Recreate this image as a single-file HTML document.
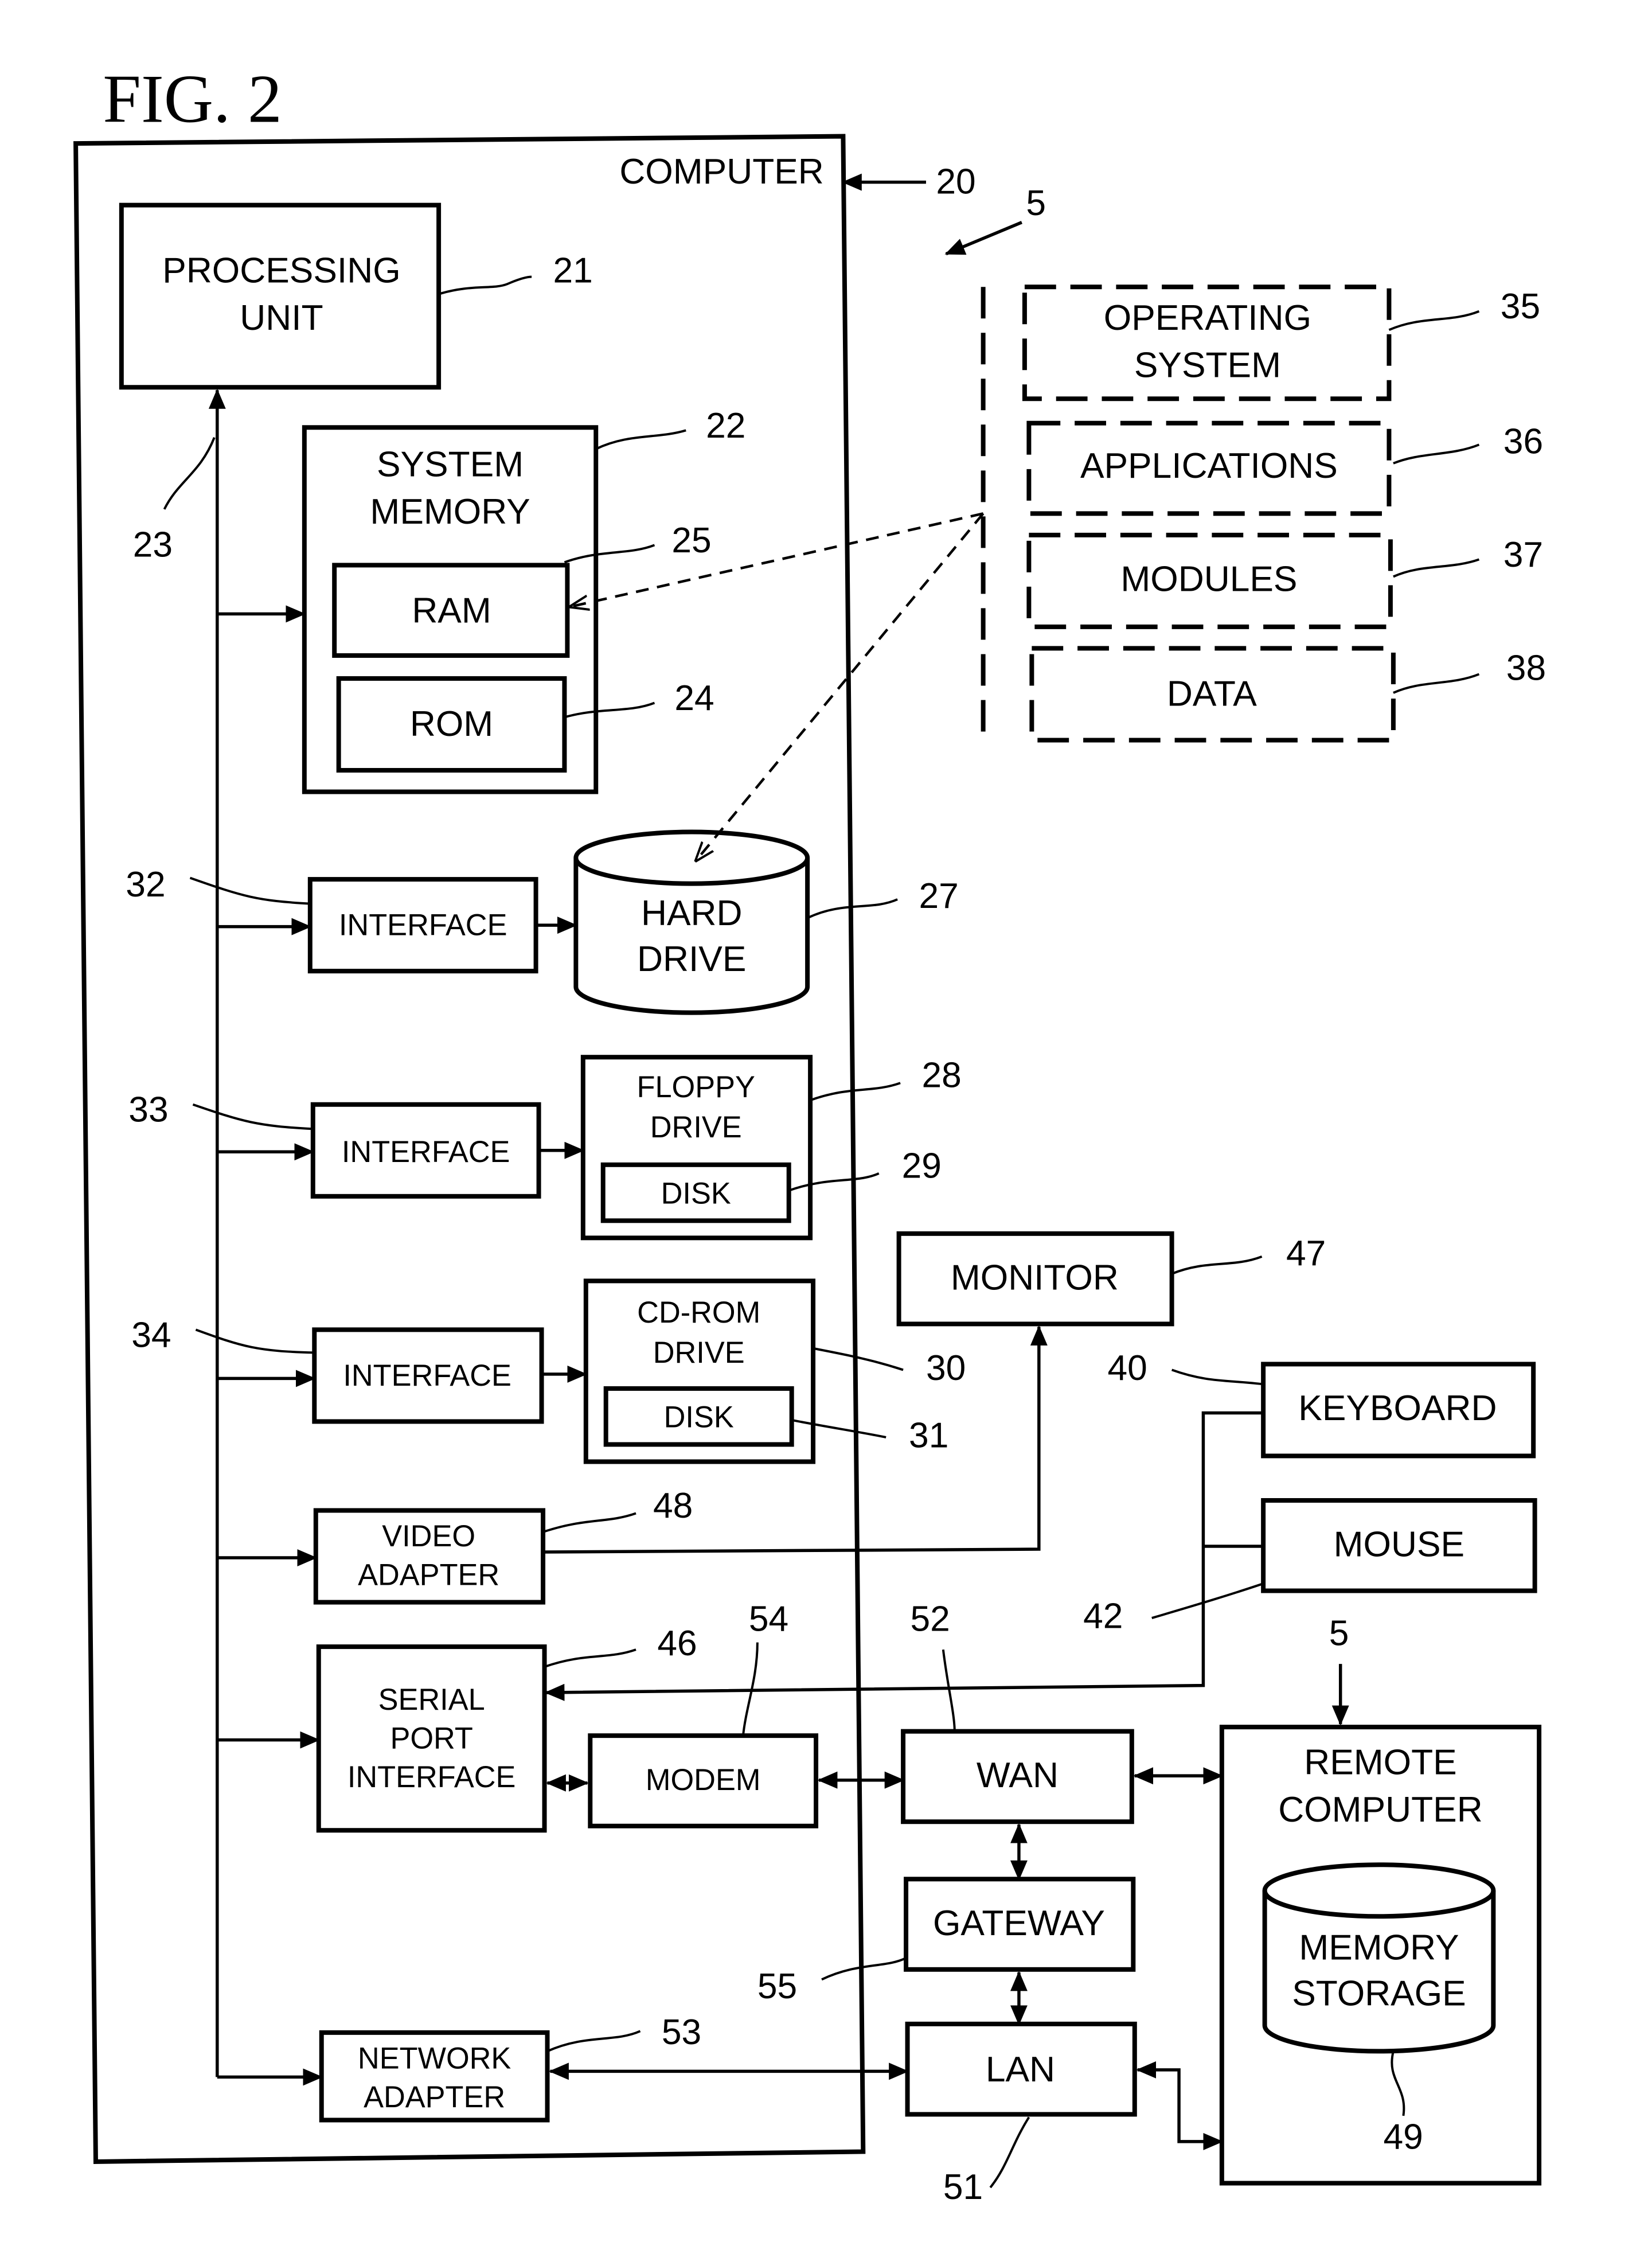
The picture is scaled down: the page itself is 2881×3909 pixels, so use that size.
<!DOCTYPE html>
<html><head><meta charset="utf-8"><style>
html,body{margin:0;padding:0;background:#fff}
svg{display:block}
text{font-family:"Liberation Sans",sans-serif;fill:#000}
</style></head><body>
<svg width="2881" height="3909" viewBox="0 0 1156 1563" preserveAspectRatio="none" xmlns="http://www.w3.org/2000/svg">
<defs>
<marker id="a" markerUnits="userSpaceOnUse" markerWidth="14" markerHeight="12" refX="13" refY="6" orient="auto-start-reverse"><path d="M0,0 L14,6 L0,12 Z" fill="#000"/></marker>
<marker id="d" markerUnits="userSpaceOnUse" markerWidth="14" markerHeight="12" refX="13" refY="6" orient="auto"><path d="M0,1 L14,6 L0,11" fill="none" stroke="#000" stroke-width="1.6"/></marker>
</defs>
<rect width="1156" height="1563" fill="#fff"/>
<g fill="none" stroke="#000" stroke-width="3.2">
<polygon points="53,100 590,95 604,1500 67,1507"/>
<rect x="85" y="143" width="222" height="127"/>
<rect x="213" y="298" width="204" height="254"/>
<rect x="234" y="394" width="163" height="63"/>
<rect x="237" y="473" width="158" height="64"/>
<rect x="217" y="613" width="158" height="64"/>
<rect x="219" y="770" width="158" height="64"/>
<rect x="220" y="927" width="159" height="64"/>
<rect x="408" y="737" width="159" height="126"/>
<rect x="422" y="812" width="130" height="39"/>
<rect x="410" y="893" width="159" height="126"/>
<rect x="424" y="968" width="130" height="39"/>
<rect x="221" y="1053" width="159" height="64"/>
<rect x="223" y="1148" width="158" height="128"/>
<rect x="413" y="1210" width="158" height="63"/>
<rect x="225" y="1417" width="158" height="61"/>
<rect x="629" y="860" width="191" height="63"/>
<rect x="884" y="951" width="189" height="64"/>
<rect x="884" y="1046" width="190" height="63"/>
<rect x="632" y="1207" width="160" height="63"/>
<rect x="634" y="1310" width="159" height="63"/>
<rect x="635" y="1411" width="159" height="63"/>
<rect x="855" y="1204" width="222" height="318"/>
<!-- cylinders -->
<path d="M403,598 L403,688 A81,18 0 0 0 565,688 L565,598"/>
<ellipse cx="484" cy="598" rx="81" ry="18"/>
<path d="M885,1318 L885,1412 A80,18 0 0 0 1045,1412 L1045,1318"/>
<ellipse cx="965" cy="1318" rx="80" ry="18"/>
</g>
<g fill="none" stroke="#000" stroke-width="3.2" stroke-dasharray="22,10">
<rect x="717" y="200" width="255" height="78"/>
<rect x="720" y="295" width="252" height="63"/>
<rect x="720" y="373" width="253" height="64"/>
<rect x="722" y="452" width="253" height="64"/>
<line x1="688" y1="200" x2="688" y2="518"/>
</g>
<g fill="none" stroke="#000" stroke-width="1.8" stroke-dasharray="9,6">
<line x1="688" y1="358" x2="399" y2="423" marker-end="url(#d)"/>
<line x1="688" y1="358" x2="487" y2="600" marker-end="url(#d)"/>
</g>
<!-- connectors -->
<g fill="none" stroke="#000" stroke-width="2.2">
<line x1="152" y1="1448" x2="152" y2="272" marker-end="url(#a)"/>
<line x1="152" y1="428" x2="213" y2="428" marker-end="url(#a)"/>
<line x1="152" y1="646" x2="217" y2="646" marker-end="url(#a)"/>
<line x1="152" y1="803" x2="219" y2="803" marker-end="url(#a)"/>
<line x1="152" y1="961" x2="220" y2="961" marker-end="url(#a)"/>
<line x1="152" y1="1086" x2="221" y2="1086" marker-end="url(#a)"/>
<line x1="152" y1="1213" x2="223" y2="1213" marker-end="url(#a)"/>
<line x1="152" y1="1448" x2="225" y2="1448" marker-end="url(#a)"/>
<line x1="375" y1="645" x2="403" y2="645" marker-end="url(#a)"/>
<line x1="377" y1="802" x2="408" y2="802" marker-end="url(#a)"/>
<line x1="379" y1="958" x2="410" y2="958" marker-end="url(#a)"/>
<polyline points="380,1082 727,1080 727,925" marker-end="url(#a)"/>
<polyline points="884,985 842,985 842,1175 382,1180" marker-end="url(#a)"/>
<line x1="842" y1="1078" x2="884" y2="1078"/>
<line x1="383" y1="1243" x2="411" y2="1243" marker-start="url(#a)" marker-end="url(#a)"/>
<line x1="573" y1="1241" x2="632" y2="1241" marker-start="url(#a)" marker-end="url(#a)"/>
<line x1="794" y1="1238" x2="855" y2="1238" marker-start="url(#a)" marker-end="url(#a)"/>
<line x1="713" y1="1272" x2="713" y2="1310" marker-start="url(#a)" marker-end="url(#a)"/>
<line x1="713" y1="1375" x2="713" y2="1411" marker-start="url(#a)" marker-end="url(#a)"/>
<polyline points="796,1443 825,1443 825,1493 855,1493" marker-start="url(#a)" marker-end="url(#a)"/>
<line x1="385" y1="1444" x2="635" y2="1444" marker-start="url(#a)" marker-end="url(#a)"/>
<line x1="938" y1="1160" x2="938" y2="1202" marker-end="url(#a)"/>
<line x1="648" y1="127" x2="590" y2="127" marker-end="url(#a)"/>
<line x1="715" y1="155" x2="662" y2="177" marker-end="url(#a)"/>
</g>
<!-- leaders -->
<g fill="none" stroke="#000" stroke-width="1.6">
<path d="M307,205 C330,198 345,202 355,198 C362,195 368,193 372,193"/>
<path d="M115,355 C125,335 140,330 150,305"/>
<path d="M417,313 C440,302 460,306 480,300"/>
<path d="M395,392 C420,383 440,387 458,380"/>
<path d="M395,500 C420,493 440,497 458,490"/>
<path d="M972,230 C995,220 1015,225 1035,217"/>
<path d="M975,323 C995,315 1015,318 1035,310"/>
<path d="M975,402 C995,393 1015,397 1035,390"/>
<path d="M975,483 C995,474 1015,478 1035,470"/>
<path d="M565,640 C590,628 610,635 628,627"/>
<path d="M133,612 C170,625 180,628 217,630"/>
<path d="M135,770 C170,782 180,785 219,787"/>
<path d="M137,927 C170,939 180,942 220,943"/>
<path d="M567,767 C595,757 610,762 630,755"/>
<path d="M552,830 C580,820 600,825 615,818"/>
<path d="M569,940 C595,945 610,948 632,955"/>
<path d="M554,990 C580,995 600,998 620,1002"/>
<path d="M380,1068 C410,1058 425,1062 445,1055"/>
<path d="M820,888 C845,878 862,884 883,876"/>
<path d="M820,955 C845,964 860,962 884,965"/>
<path d="M806,1128 C840,1118 860,1112 884,1104"/>
<path d="M381,1162 C410,1152 425,1157 445,1150"/>
<path d="M530,1145 C530,1170 522,1190 520,1210"/>
<path d="M660,1150 C663,1175 668,1195 668,1207"/>
<path d="M575,1380 C600,1368 620,1372 634,1365"/>
<path d="M693,1525 C705,1510 708,1495 720,1476"/>
<path d="M975,1430 C970,1450 985,1455 982,1475"/>
<path d="M383,1430 C410,1418 430,1424 448,1416"/>
</g>
<text x="72" y="85" font-family="Liberation Serif,serif" font-size="48" style="font-family:'Liberation Serif',serif">FIG. 2</text>
<g font-size="25" text-anchor="middle">
<text x="505" y="128">COMPUTER</text>
<text x="197" y="197">PROCESSING</text><text x="197" y="230">UNIT</text>
<text x="315" y="332">SYSTEM</text><text x="315" y="365">MEMORY</text>
<text x="316" y="434">RAM</text><text x="316" y="513">ROM</text>
<text x="484" y="645">HARD</text><text x="484" y="677">DRIVE</text>
<text x="845" y="230">OPERATING</text><text x="845" y="263">SYSTEM</text>
<text x="846" y="333">APPLICATIONS</text>
<text x="846" y="412">MODULES</text>
<text x="848" y="492">DATA</text>
<text x="724" y="899">MONITOR</text>
<text x="978" y="990">KEYBOARD</text>
<text x="979" y="1085">MOUSE</text>
<text x="712" y="1246">WAN</text>
<text x="713" y="1349">GATEWAY</text>
<text x="714" y="1451">LAN</text>
<text x="966" y="1237">REMOTE</text><text x="966" y="1270">COMPUTER</text>
<text x="965" y="1366">MEMORY</text><text x="965" y="1398">STORAGE</text>
</g>
<g font-size="21" text-anchor="middle">
<text x="296" y="652">INTERFACE</text>
<text x="298" y="810">INTERFACE</text>
<text x="299" y="966">INTERFACE</text>
<text x="487" y="765">FLOPPY</text><text x="487" y="793">DRIVE</text>
<text x="487" y="839">DISK</text>
<text x="489" y="922">CD-ROM</text><text x="489" y="950">DRIVE</text>
<text x="489" y="995">DISK</text>
<text x="300" y="1078">VIDEO</text><text x="300" y="1105">ADAPTER</text>
<text x="302" y="1192">SERIAL</text><text x="302" y="1219">PORT</text><text x="302" y="1246">INTERFACE</text>
<text x="492" y="1248">MODEM</text>
<text x="304" y="1442">NETWORK</text><text x="304" y="1469">ADAPTER</text>
</g>
<g font-size="25">
<text x="655" y="135">20</text><text x="718" y="150">5</text>
<text x="387" y="197">21</text><text x="93" y="388">23</text>
<text x="494" y="305">22</text><text x="470" y="385">25</text><text x="472" y="495">24</text>
<text x="1050" y="222">35</text><text x="1052" y="316">36</text><text x="1052" y="395">37</text><text x="1054" y="474">38</text>
<text x="643" y="633">27</text><text x="88" y="625">32</text><text x="90" y="782">33</text><text x="92" y="939">34</text>
<text x="645" y="758">28</text><text x="631" y="821">29</text><text x="648" y="962">30</text><text x="636" y="1009">31</text>
<text x="457" y="1058">48</text><text x="900" y="882">47</text><text x="775" y="962">40</text><text x="758" y="1135">42</text>
<text x="460" y="1154">46</text><text x="524" y="1137">54</text><text x="637" y="1137">52</text><text x="930" y="1147">5</text>
<text x="530" y="1393">55</text><text x="463" y="1425">53</text><text x="660" y="1533">51</text><text x="968" y="1498">49</text>
</g>
</svg>
</body></html>
